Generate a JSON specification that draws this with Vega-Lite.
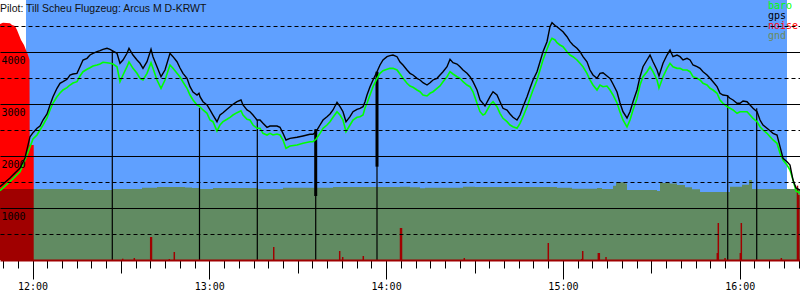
{
  "$schema": "https://vega.github.io/schema/vega-lite/v6.json",
  "width": 800,
  "height": 260,
  "autosize": {"type": "none"},
  "padding": {"left": 0, "top": 0, "right": 0, "bottom": 40},
  "background": "white",
  "title": {"text": "Pilot: Till Scheu Flugzeug: Arcus M D-KRWT", "anchor": "start", "frame": "group", "orient": "top", "offset": -22, "baseline": "alphabetic", "font": "Liberation Sans", "fontSize": 10.5, "fontWeight": "normal", "color": "#111111"},
  "config": {"view": {"stroke": null}},
  "datasets": {
    "sky": [{"start": 717.79, "end": 976.05}],
    "noiseHi": [
      {"t": 708.97, "n": 4538}, {"t": 709.99, "n": 4563}, {"t": 712.36, "n": 4552}, {"t": 713.04, "n": 4519},
      {"t": 714.06, "n": 4500}, {"t": 714.74, "n": 4423}, {"t": 715.42, "n": 4327}, {"t": 716.10, "n": 4231},
      {"t": 717.11, "n": 4135}, {"t": 717.79, "n": 4038}, {"t": 718.47, "n": 3942}, {"t": 718.98, "n": 3850},
      {"t": 719.05, "n": 2211}, {"t": 720.41, "n": 2211}
    ],
    "gnd": [
      {"t": 708.97, "g": 1365}, {"t": 737.14, "g": 1346}, {"t": 747.32, "g": 1365}, {"t": 757.16, "g": 1390},
      {"t": 762.25, "g": 1404}, {"t": 771.76, "g": 1394}, {"t": 774.13, "g": 1385}, {"t": 776.84, "g": 1365},
      {"t": 781.25, "g": 1385}, {"t": 796.53, "g": 1365}, {"t": 805.01, "g": 1390}, {"t": 821.98, "g": 1404},
      {"t": 844.72, "g": 1410}, {"t": 848.11, "g": 1397}, {"t": 851.51, "g": 1378}, {"t": 853.20, "g": 1390},
      {"t": 866.10, "g": 1410}, {"t": 870.17, "g": 1404}, {"t": 897.99, "g": 1390}, {"t": 903.09, "g": 1371},
      {"t": 911.57, "g": 1385}, {"t": 913.27, "g": 1365}, {"t": 917.00, "g": 1430}, {"t": 918.02, "g": 1494},
      {"t": 921.07, "g": 1470}, {"t": 921.75, "g": 1346}, {"t": 931.93, "g": 1327}, {"t": 932.95, "g": 1481},
      {"t": 936.35, "g": 1470}, {"t": 938.72, "g": 1440}, {"t": 941.44, "g": 1400}, {"t": 943.81, "g": 1360},
      {"t": 946.53, "g": 1308}, {"t": 956.71, "g": 1410}, {"t": 960.79, "g": 1449}, {"t": 963.16, "g": 1538},
      {"t": 964.18, "g": 1365}, {"t": 980.46, "g": 1365}
    ],
    "spikes": [
      {"t": 750.61, "n": 25}, {"t": 754.55, "n": 38}, {"t": 760.11, "n": 442}, {"t": 760.38, "n": 442},
      {"t": 766.43, "n": 19}, {"t": 768.12, "n": 154}, {"t": 801.86, "n": 250}, {"t": 824.25, "n": 173},
      {"t": 825.27, "n": 58}, {"t": 832.26, "n": 77}, {"t": 844.89, "n": 615}, {"t": 845.23, "n": 615},
      {"t": 866.53, "n": 38}, {"t": 895.04, "n": 327}, {"t": 906.38, "n": 20}, {"t": 906.72, "n": 173},
      {"t": 912.02, "n": 135}, {"t": 912.36, "n": 135}, {"t": 914.63, "n": 58}, {"t": 952.40, "n": 135},
      {"t": 952.74, "n": 712}, {"t": 955.02, "n": 38}, {"t": 960.21, "n": 135}, {"t": 960.55, "n": 712},
      {"t": 974.13, "n": 38}, {"t": 979.60, "n": 1430}, {"t": 979.72, "n": 1250}, {"t": 980.06, "n": 1250}
    ],
    "tp": [
      {"t": 747.08, "top": 4025}, {"t": 776.67, "top": 2923}, {"t": 796.29, "top": 2692}, {"t": 816.11, "top": 2513},
      {"t": 836.91, "top": 3621}, {"t": 955.93, "top": 3173}, {"t": 965.77, "top": 2917}
    ],
    "tpThick": [
      {"t": 816.11, "top": 2513, "bottom": 1231}, {"t": 836.91, "top": 3621, "bottom": 1795}
    ],
    "flight": [
      {"t": 708.97, "gps": 1410, "baro": 1333}, {"t": 712.36, "gps": 1577, "baro": 1506}, {"t": 715.76, "gps": 1769, "baro": 1698},
      {"t": 717.45, "gps": 1962, "baro": 1923}, {"t": 719.15, "gps": 2371, "baro": 2173}, {"t": 720.17, "gps": 2448, "baro": 2327},
      {"t": 721.53, "gps": 2533, "baro": 2404}, {"t": 722.54, "gps": 2577, "baro": 2500}, {"t": 723.56, "gps": 2692, "baro": 2596},
      {"t": 724.92, "gps": 2808, "baro": 2731}, {"t": 725.94, "gps": 2981, "baro": 2885}, {"t": 726.96, "gps": 3140, "baro": 3019},
      {"t": 728.31, "gps": 3302, "baro": 3140}, {"t": 729.33, "gps": 3398, "baro": 3212}, {"t": 730.35, "gps": 3429, "baro": 3269},
      {"t": 731.71, "gps": 3475, "baro": 3314}, {"t": 732.73, "gps": 3558, "baro": 3365}, {"t": 733.74, "gps": 3577, "baro": 3404},
      {"t": 735.10, "gps": 3590, "baro": 3429}, {"t": 736.12, "gps": 3717, "baro": 3538}, {"t": 737.14, "gps": 3846, "baro": 3621},
      {"t": 738.50, "gps": 3879, "baro": 3667}, {"t": 739.51, "gps": 3942, "baro": 3698}, {"t": 740.53, "gps": 3975, "baro": 3731},
      {"t": 741.89, "gps": 4006, "baro": 3750}, {"t": 742.91, "gps": 4025, "baro": 3769}, {"t": 743.92, "gps": 4052, "baro": 3802},
      {"t": 745.28, "gps": 4071, "baro": 3794}, {"t": 746.30, "gps": 4052, "baro": 3783}, {"t": 747.32, "gps": 4019, "baro": 3769},
      {"t": 748.67, "gps": 3975, "baro": 3717}, {"t": 749.69, "gps": 3783, "baro": 3429}, {"t": 750.71, "gps": 3846, "baro": 3558},
      {"t": 752.07, "gps": 3975, "baro": 3717}, {"t": 752.75, "gps": 4071, "baro": 3808}, {"t": 754.10, "gps": 3942, "baro": 3686},
      {"t": 755.46, "gps": 3846, "baro": 3590}, {"t": 756.48, "gps": 3783, "baro": 3494}, {"t": 757.50, "gps": 3686, "baro": 3462},
      {"t": 758.86, "gps": 3813, "baro": 3590}, {"t": 760.22, "gps": 4052, "baro": 3794}, {"t": 760.89, "gps": 3910, "baro": 3686},
      {"t": 762.25, "gps": 3717, "baro": 3462}, {"t": 763.61, "gps": 3525, "baro": 3302}, {"t": 764.96, "gps": 3654, "baro": 3462},
      {"t": 766.66, "gps": 3975, "baro": 3750}, {"t": 767.68, "gps": 3910, "baro": 3686}, {"t": 769.04, "gps": 3813, "baro": 3590},
      {"t": 770.06, "gps": 3692, "baro": 3519}, {"t": 771.07, "gps": 3590, "baro": 3423}, {"t": 772.43, "gps": 3494, "baro": 3302},
      {"t": 773.45, "gps": 3333, "baro": 3173}, {"t": 774.47, "gps": 3231, "baro": 3077}, {"t": 775.83, "gps": 3173, "baro": 2981},
      {"t": 776.50, "gps": 3206, "baro": 2962}, {"t": 776.84, "gps": 3140, "baro": 2942}, {"t": 777.86, "gps": 3044, "baro": 2885},
      {"t": 779.22, "gps": 2981, "baro": 2821}, {"t": 780.24, "gps": 2885, "baro": 2692}, {"t": 781.25, "gps": 2788, "baro": 2660},
      {"t": 782.61, "gps": 2660, "baro": 2481}, {"t": 783.63, "gps": 2788, "baro": 2596}, {"t": 784.65, "gps": 2833, "baro": 2660},
      {"t": 786.01, "gps": 2898, "baro": 2706}, {"t": 787.03, "gps": 2948, "baro": 2744}, {"t": 788.04, "gps": 2994, "baro": 2788},
      {"t": 789.40, "gps": 3044, "baro": 2833}, {"t": 790.76, "gps": 3077, "baro": 2871}, {"t": 791.44, "gps": 2981, "baro": 2788},
      {"t": 792.79, "gps": 2885, "baro": 2706}, {"t": 793.81, "gps": 2852, "baro": 2692}, {"t": 794.83, "gps": 2788, "baro": 2596},
      {"t": 796.19, "gps": 2692, "baro": 2533}, {"t": 797.21, "gps": 2692, "baro": 2533}, {"t": 798.22, "gps": 2629, "baro": 2436},
      {"t": 799.58, "gps": 2552, "baro": 2404}, {"t": 800.60, "gps": 2577, "baro": 2436}, {"t": 801.62, "gps": 2577, "baro": 2404},
      {"t": 802.98, "gps": 2577, "baro": 2423}, {"t": 803.99, "gps": 2552, "baro": 2404}, {"t": 805.01, "gps": 2436, "baro": 2308},
      {"t": 806.03, "gps": 2308, "baro": 2148}, {"t": 807.39, "gps": 2340, "baro": 2192}, {"t": 809.76, "gps": 2360, "baro": 2212},
      {"t": 811.80, "gps": 2385, "baro": 2244}, {"t": 814.17, "gps": 2417, "baro": 2275}, {"t": 815.19, "gps": 2417, "baro": 2275},
      {"t": 816.21, "gps": 2467, "baro": 2321}, {"t": 817.57, "gps": 2596, "baro": 2436}, {"t": 818.59, "gps": 2692, "baro": 2533},
      {"t": 819.94, "gps": 2756, "baro": 2596}, {"t": 820.96, "gps": 2808, "baro": 2660}, {"t": 821.98, "gps": 2885, "baro": 2744},
      {"t": 823.34, "gps": 3033, "baro": 2852}, {"t": 824.36, "gps": 2948, "baro": 2788}, {"t": 825.37, "gps": 2852, "baro": 2692},
      {"t": 826.39, "gps": 2660, "baro": 2467}, {"t": 827.75, "gps": 2756, "baro": 2596}, {"t": 828.77, "gps": 2852, "baro": 2692},
      {"t": 830.12, "gps": 2898, "baro": 2744}, {"t": 831.14, "gps": 2917, "baro": 2756}, {"t": 832.16, "gps": 2948, "baro": 2788},
      {"t": 832.84, "gps": 3044, "baro": 2923}, {"t": 833.52, "gps": 3173, "baro": 3013}, {"t": 834.54, "gps": 3333, "baro": 3173},
      {"t": 835.55, "gps": 3462, "baro": 3333}, {"t": 836.91, "gps": 3621, "baro": 3494}, {"t": 837.93, "gps": 3750, "baro": 3590},
      {"t": 838.95, "gps": 3846, "baro": 3640}, {"t": 840.31, "gps": 3910, "baro": 3667}, {"t": 841.32, "gps": 3929, "baro": 3686},
      {"t": 842.34, "gps": 3942, "baro": 3686}, {"t": 843.70, "gps": 3910, "baro": 3654}, {"t": 844.72, "gps": 3808, "baro": 3577},
      {"t": 845.73, "gps": 3750, "baro": 3494}, {"t": 847.09, "gps": 3654, "baro": 3398}, {"t": 848.11, "gps": 3590, "baro": 3346},
      {"t": 849.13, "gps": 3558, "baro": 3321}, {"t": 850.49, "gps": 3494, "baro": 3269}, {"t": 851.51, "gps": 3462, "baro": 3236},
      {"t": 852.52, "gps": 3410, "baro": 3173}, {"t": 853.88, "gps": 3365, "baro": 3154}, {"t": 854.90, "gps": 3410, "baro": 3206},
      {"t": 855.92, "gps": 3462, "baro": 3236}, {"t": 857.28, "gps": 3494, "baro": 3302}, {"t": 858.29, "gps": 3558, "baro": 3346},
      {"t": 859.31, "gps": 3621, "baro": 3429}, {"t": 860.67, "gps": 3717, "baro": 3525}, {"t": 861.69, "gps": 3860, "baro": 3621},
      {"t": 862.70, "gps": 3794, "baro": 3577}, {"t": 864.06, "gps": 3769, "baro": 3525}, {"t": 865.08, "gps": 3717, "baro": 3494},
      {"t": 866.10, "gps": 3654, "baro": 3429}, {"t": 867.46, "gps": 3590, "baro": 3365}, {"t": 868.47, "gps": 3525, "baro": 3333},
      {"t": 869.49, "gps": 3429, "baro": 3236}, {"t": 870.85, "gps": 3269, "baro": 3013}, {"t": 871.87, "gps": 3077, "baro": 2852},
      {"t": 872.88, "gps": 3013, "baro": 2788}, {"t": 873.56, "gps": 2962, "baro": 2808}, {"t": 875.26, "gps": 3140, "baro": 2981},
      {"t": 876.28, "gps": 3236, "baro": 3044}, {"t": 877.63, "gps": 3173, "baro": 2948}, {"t": 878.65, "gps": 3044, "baro": 2821},
      {"t": 879.67, "gps": 2917, "baro": 2725}, {"t": 881.03, "gps": 2885, "baro": 2660}, {"t": 882.05, "gps": 2808, "baro": 2596},
      {"t": 883.06, "gps": 2744, "baro": 2563}, {"t": 884.42, "gps": 2692, "baro": 2533}, {"t": 885.44, "gps": 2788, "baro": 2629},
      {"t": 886.46, "gps": 2948, "baro": 2756}, {"t": 887.82, "gps": 3140, "baro": 2948}, {"t": 888.83, "gps": 3302, "baro": 3110},
      {"t": 889.85, "gps": 3462, "baro": 3269}, {"t": 891.21, "gps": 3621, "baro": 3462}, {"t": 892.23, "gps": 3813, "baro": 3654},
      {"t": 893.24, "gps": 4006, "baro": 3846}, {"t": 894.60, "gps": 4198, "baro": 4052}, {"t": 895.62, "gps": 4486, "baro": 4198},
      {"t": 896.30, "gps": 4563, "baro": 4263}, {"t": 897.32, "gps": 4510, "baro": 4231}, {"t": 897.99, "gps": 4486, "baro": 4179},
      {"t": 899.01, "gps": 4436, "baro": 4135}, {"t": 900.03, "gps": 4390, "baro": 4102}, {"t": 901.39, "gps": 4294, "baro": 4006},
      {"t": 902.41, "gps": 4198, "baro": 3942}, {"t": 903.42, "gps": 4135, "baro": 3910}, {"t": 904.78, "gps": 4071, "baro": 3846},
      {"t": 905.80, "gps": 4006, "baro": 3783}, {"t": 906.82, "gps": 3910, "baro": 3717}, {"t": 908.17, "gps": 3813, "baro": 3590},
      {"t": 909.19, "gps": 3654, "baro": 3462}, {"t": 910.21, "gps": 3558, "baro": 3365}, {"t": 911.57, "gps": 3494, "baro": 3269},
      {"t": 912.59, "gps": 3590, "baro": 3365}, {"t": 913.60, "gps": 3602, "baro": 3333}, {"t": 914.96, "gps": 3538, "baro": 3346},
      {"t": 915.98, "gps": 3490, "baro": 3269}, {"t": 917.00, "gps": 3385, "baro": 3173}, {"t": 918.36, "gps": 3231, "baro": 3019},
      {"t": 919.38, "gps": 3019, "baro": 2846}, {"t": 920.39, "gps": 2852, "baro": 2692}, {"t": 921.75, "gps": 2731, "baro": 2558},
      {"t": 922.77, "gps": 2852, "baro": 2692}, {"t": 923.79, "gps": 3044, "baro": 2885}, {"t": 925.15, "gps": 3269, "baro": 3110},
      {"t": 926.17, "gps": 3525, "baro": 3365}, {"t": 927.18, "gps": 3717, "baro": 3525}, {"t": 928.54, "gps": 3846, "baro": 3621},
      {"t": 929.56, "gps": 3942, "baro": 3717}, {"t": 930.58, "gps": 3813, "baro": 3621}, {"t": 931.94, "gps": 3654, "baro": 3462},
      {"t": 932.61, "gps": 3538, "baro": 3308}, {"t": 933.97, "gps": 3783, "baro": 3525}, {"t": 935.33, "gps": 3942, "baro": 3686},
      {"t": 936.35, "gps": 4038, "baro": 3783}, {"t": 937.36, "gps": 3910, "baro": 3717}, {"t": 938.72, "gps": 3942, "baro": 3686},
      {"t": 939.74, "gps": 3910, "baro": 3686}, {"t": 940.76, "gps": 3846, "baro": 3654}, {"t": 942.12, "gps": 3879, "baro": 3654},
      {"t": 943.14, "gps": 3846, "baro": 3621}, {"t": 944.15, "gps": 3750, "baro": 3525}, {"t": 945.51, "gps": 3717, "baro": 3494},
      {"t": 946.53, "gps": 3686, "baro": 3462}, {"t": 947.55, "gps": 3621, "baro": 3398}, {"t": 948.91, "gps": 3558, "baro": 3365},
      {"t": 949.92, "gps": 3494, "baro": 3302}, {"t": 950.94, "gps": 3429, "baro": 3269}, {"t": 952.30, "gps": 3333, "baro": 3206},
      {"t": 953.32, "gps": 3206, "baro": 3077}, {"t": 954.34, "gps": 3173, "baro": 3013}, {"t": 955.70, "gps": 3160, "baro": 2948},
      {"t": 956.71, "gps": 3110, "baro": 2917}, {"t": 957.73, "gps": 3077, "baro": 2885}, {"t": 959.09, "gps": 3013, "baro": 2821},
      {"t": 960.11, "gps": 3013, "baro": 2852}, {"t": 961.13, "gps": 3058, "baro": 2852}, {"t": 962.48, "gps": 3044, "baro": 2852},
      {"t": 963.50, "gps": 2981, "baro": 2788}, {"t": 964.52, "gps": 2917, "baro": 2725}, {"t": 965.88, "gps": 2852, "baro": 2660},
      {"t": 966.89, "gps": 2692, "baro": 2563}, {"t": 967.91, "gps": 2596, "baro": 2500}, {"t": 969.27, "gps": 2533, "baro": 2436},
      {"t": 970.29, "gps": 2486, "baro": 2371}, {"t": 971.31, "gps": 2436, "baro": 2308}, {"t": 972.66, "gps": 2404, "baro": 2244},
      {"t": 973.68, "gps": 2179, "baro": 2052}, {"t": 974.70, "gps": 1956, "baro": 1923}, {"t": 976.06, "gps": 1890, "baro": 1827},
      {"t": 977.07, "gps": 1827, "baro": 1731}, {"t": 978.09, "gps": 1538, "baro": 1538}, {"t": 979.11, "gps": 1385, "baro": 1327},
      {"t": 980.46, "gps": 1346, "baro": 1288}
    ]
  },
  "layer": [
    {
      "data": {"name": "sky"},
      "mark": {"type": "rect", "color": "#5fa0ff"},
      "encoding": {
        "x": {"field": "start", "type": "quantitative",
          "scale": {"domain": [708.97, 980.46], "nice": false, "zero": false},
          "axis": {"title": null, "grid": false, "orient": "bottom", "tickCount": 200,
            "values": [710,715,720,725,730,735,740,745,750,755,760,765,770,775,780,785,790,795,800,805,810,815,820,825,830,835,840,845,850,855,860,865,870,875,880,885,890,895,900,905,910,915,920,925,930,935,940,945,950,955,960,965,970,975,980],
            "domainColor": "#a00000", "domainWidth": 2,
            "tickColor": "#000000", "tickWidth": 1,
            "tickSize": {"condition": [{"test": "datum.value % 60 === 0", "value": 19}, {"test": "datum.value % 30 === 0", "value": 13}], "value": 8},
            "labelExpr": "datum.value % 60 === 0 ? floor(datum.value / 60) + ':00' : ''",
            "labelFont": "DejaVu Sans Mono", "labelFontSize": 10, "labelColor": "#000000",
            "labelPadding": 2, "labelFlush": false, "labelOverlap": false, "labelBound": false, "zindex": 1}
        },
        "x2": {"field": "end"},
        "y": {"datum": 5000, "type": "quantitative",
          "scale": {"domain": [0, 5000], "nice": false, "zero": false},
          "axis": {"title": null, "orient": "left", "domain": false, "ticks": false, "grid": true, "tickCount": 100,
            "values": [500,1000,1500,2000,2500,3000,3500,4000,4500],
            "gridColor": "#000000", "gridWidth": 1, "gridOpacity": 1,
            "gridDash": {"condition": {"test": "datum.value % 1000 !== 0", "value": [4, 3]}, "value": []},
            "labelExpr": "datum.value % 1000 === 0 ? '' + datum.value : ''",
            "labelAlign": "left", "labelBaseline": "top", "labelPadding": -1, "labelOffset": 3, "labelOverlap": false,
            "labelFont": "DejaVu Sans Mono", "labelFontSize": 10, "labelColor": "#000000", "labelBound": false, "zindex": 1}
        },
        "y2": {"datum": 0}
      }
    },
    {
      "data": {"name": "noiseHi"},
      "mark": {"type": "area", "interpolate": "linear"},
      "encoding": {
        "x": {"field": "t", "type": "quantitative"},
        "y": {"field": "n", "type": "quantitative"},
        "color": {"datum": "noise", "type": "nominal",
          "scale": {"domain": ["baro", "gps", "noise", "gnd"], "range": ["#00ff00", "#000000", "#ff0000", "#618b62"]},
          "legend": {"orient": "top-right", "offset": 1, "padding": 0, "title": null,
            "symbolOpacity": 0, "symbolSize": 0, "symbolStrokeWidth": 0, "labelOffset": 0,
            "labelFont": "DejaVu Sans Mono", "labelFontSize": 10, "rowPadding": 0, "labelLimit": 200,
            "labelColor": {"expr": "datum.value === 'baro' ? '#00ff00' : datum.value === 'noise' ? '#ff0000' : datum.value === 'gnd' ? '#6b8b5b' : '#000000'"}}
        }
      }
    },
    {
      "data": {"name": "gnd"},
      "mark": {"type": "area", "interpolate": "step-after"},
      "encoding": {
        "x": {"field": "t", "type": "quantitative"},
        "y": {"field": "g", "type": "quantitative"},
        "color": {"datum": "gnd", "type": "nominal"}
      }
    },
    {
      "data": {"values": [{"start": 708.97, "end": 720.41, "top": 1365}]},
      "mark": {"type": "rect", "color": "#a00000"},
      "encoding": {
        "x": {"field": "start", "type": "quantitative"},
        "x2": {"field": "end"},
        "y": {"field": "top", "type": "quantitative"},
        "y2": {"datum": 0}
      }
    },
    {
      "data": {"name": "spikes"},
      "mark": {"type": "rule", "color": "#a00000", "strokeWidth": 1.5},
      "encoding": {
        "x": {"field": "t", "type": "quantitative"},
        "y": {"field": "n", "type": "quantitative"},
        "y2": {"datum": 0}
      }
    },
    {
      "data": {"name": "tp"},
      "mark": {"type": "rule", "color": "#000000", "strokeWidth": 1.2},
      "encoding": {
        "x": {"field": "t", "type": "quantitative"},
        "y": {"field": "top", "type": "quantitative"},
        "y2": {"datum": 0}
      }
    },
    {
      "data": {"name": "tpThick"},
      "mark": {"type": "rule", "color": "#000000", "strokeWidth": 3},
      "encoding": {
        "x": {"field": "t", "type": "quantitative"},
        "y": {"field": "top", "type": "quantitative"},
        "y2": {"field": "bottom"}
      }
    },
    {
      "data": {"name": "flight"},
      "mark": {"type": "line", "strokeWidth": 1.6},
      "encoding": {
        "x": {"field": "t", "type": "quantitative"},
        "y": {"field": "baro", "type": "quantitative"},
        "color": {"datum": "baro", "type": "nominal"}
      }
    },
    {
      "data": {"name": "flight"},
      "mark": {"type": "line", "strokeWidth": 1.4},
      "encoding": {
        "x": {"field": "t", "type": "quantitative"},
        "y": {"field": "gps", "type": "quantitative"},
        "color": {"datum": "gps", "type": "nominal"}
      }
    }
  ]
}
